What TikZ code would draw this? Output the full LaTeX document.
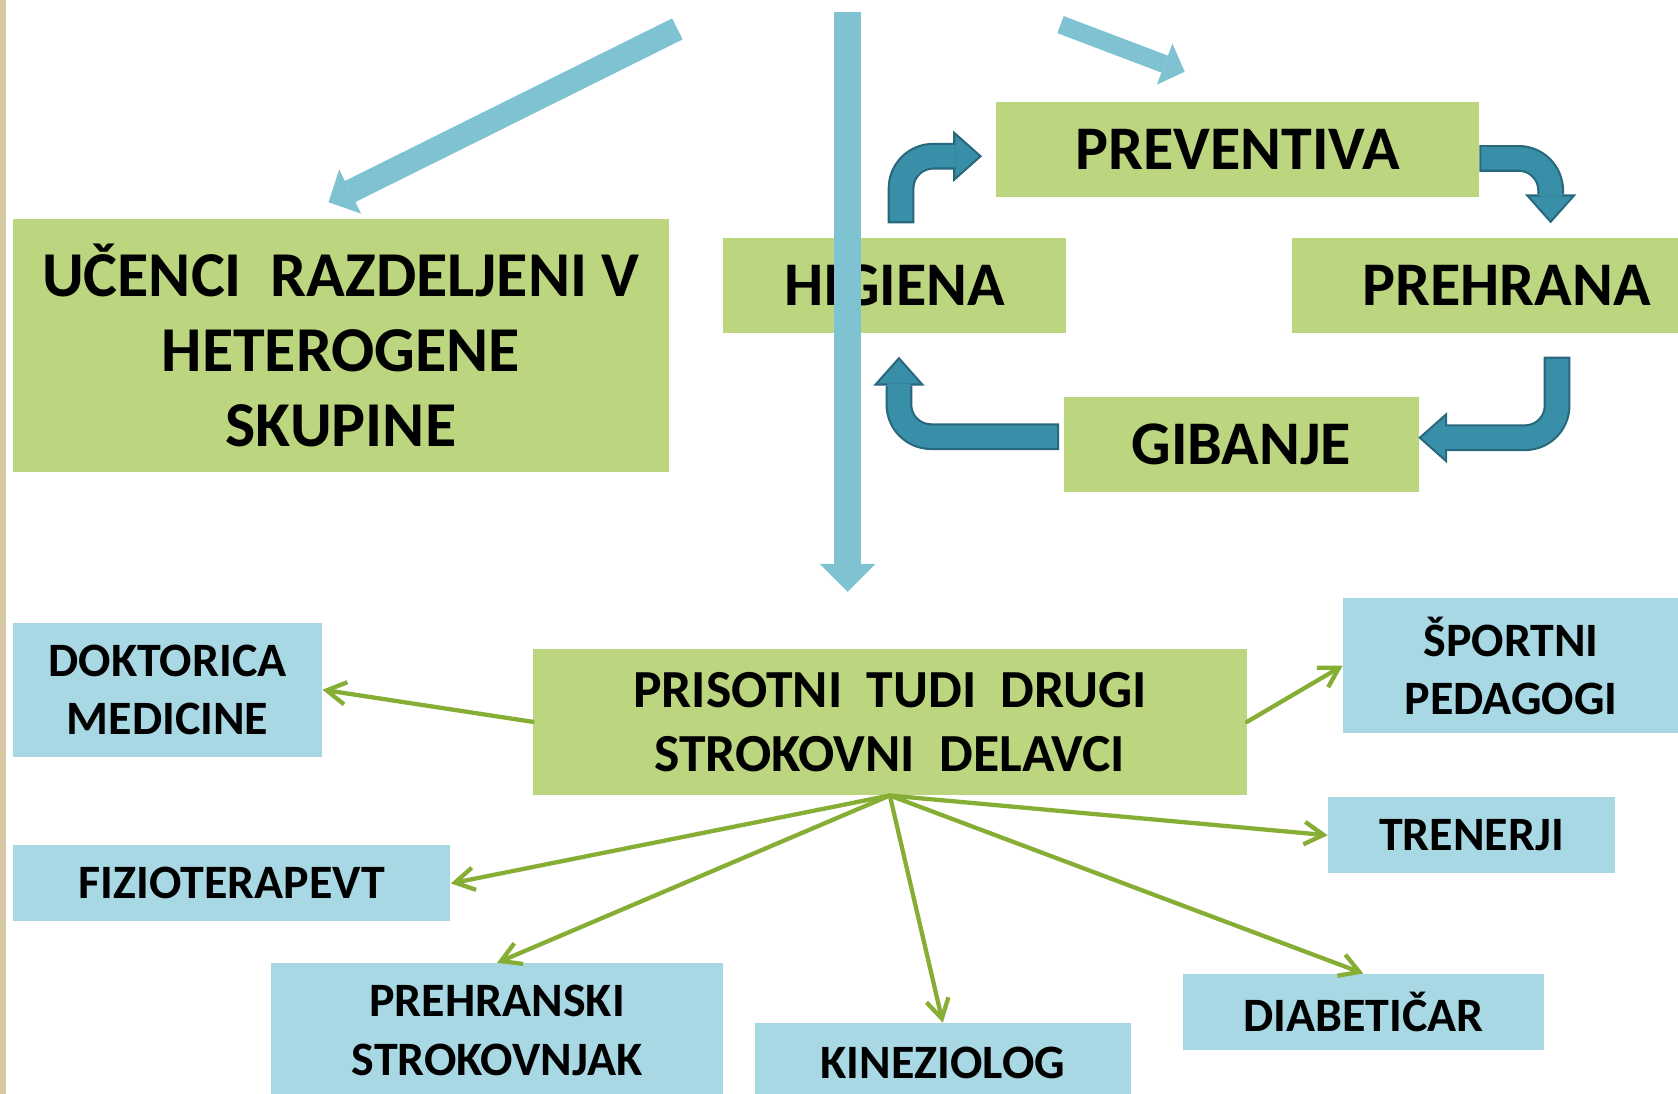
\documentclass[tikz,border=0pt]{standalone}
\usepackage{fontspec}
\setmainfont{Carlito}
\usetikzlibrary{arrows.meta}
\definecolor{boxgreen}{HTML}{BBD67E}
\definecolor{boxblue}{HTML}{A8D8E3}
\definecolor{barblue}{HTML}{7FC3D3}
\definecolor{loopteal}{HTML}{3A8FA8}
\definecolor{loopedge}{HTML}{27687C}
\definecolor{linkgreen}{HTML}{86AD34}
\definecolor{stripbeige}{HTML}{D6C8A2}
\begin{document}
\begin{tikzpicture}[x=0.02cm, y=-0.02cm,
greenbox/.style={
% The shape:
rectangle, inner sep=0pt,
% The filling:
fill=boxgreen,
% Font
font=\bfseries, align=center
},
bluebox/.style={
rectangle, inner sep=0pt,
fill=boxblue,
font=\bfseries\fontsize{25.5}{31}\selectfont, align=center
},
% thick pale arrows at the top
bararrow/.style={draw=barblue},
% the cycle arrows: dark edge first, teal body on top
loopout/.style={draw=loopedge, line width=0.5cm, rounded corners=0.6cm,
  -{Triangle[length=0.54cm, width=0.96cm, line width=0pt]}},
loopin/.style={draw=loopteal, line width=0.42cm, rounded corners=0.6cm,
  shorten <=0.04cm, shorten >=0.06cm,
  -{Triangle[length=0.44cm, width=0.78cm, line width=0pt]}},
% thin green links
link/.style={draw=linkgreen, line width=0.08cm, line cap=round,
  -{Straight Barb[length=0.36cm, width=0.42cm]}}
]
\useasboundingbox (0,0) rectangle (1568,1022);
\clip (0,0) rectangle (1568,1022);
\fill[white] (0,0) rectangle (1568,1022);
\fill[stripbeige] (0,0) rectangle (6,1022);

% upper part
\node[greenbox, minimum width=12.26cm, minimum height=4.72cm,
  font=\bfseries\fontsize{34}{40}\selectfont] (ucenci) at (318.5,323)
  {UČENCI~ RAZDELJENI V\\HETEROGENE\\SKUPINE};
\node[greenbox, minimum width=9.02cm, minimum height=1.78cm,
  font=\bfseries\fontsize{33}{36}\selectfont] (prev) at (1156.5,139.5) {PREVENTIVA};
\node[greenbox, minimum width=6.4cm, minimum height=1.78cm,
  font=\bfseries\fontsize{33}{36}\selectfont] (hig) at (836,266.5) {HIGIENA};
\node[greenbox, minimum width=8.04cm, minimum height=1.78cm,
  font=\bfseries\fontsize{33}{36}\selectfont] (preh) at (1408,266.5) {PREHRANA};
\node[greenbox, minimum width=6.64cm, minimum height=1.78cm,
  font=\bfseries\fontsize{33}{36}\selectfont] (gib) at (1160,415.5) {GIBANJE};

% lower part
\node[greenbox, minimum width=13.34cm, minimum height=2.74cm,
  font=\bfseries\fontsize{28.5}{34}\selectfont] (pris) at (831.5,674.5)
  {PRISOTNI~ TUDI~ DRUGI\\STROKOVNI~ DELAVCI};
\node[bluebox, minimum width=5.78cm, minimum height=2.5cm] (dok) at (156.5,644.5) {DOKTORICA\\MEDICINE};
\node[bluebox, minimum width=8.18cm, minimum height=1.42cm] (fiz) at (216.5,825.5) {FIZIOTERAPEVT};
\node[bluebox, minimum width=8.46cm, minimum height=2.52cm] (prehs) at (464.5,963) {PREHRANSKI\\STROKOVNJAK};
\node[bluebox, minimum width=7.04cm, minimum height=1.48cm] (kin) at (881,993) {KINEZIOLOG};
\node[bluebox, minimum width=6.76cm, minimum height=1.42cm] (dia) at (1274,945.5) {DIABETIČAR};
\node[bluebox, minimum width=5.36cm, minimum height=1.42cm] (tren) at (1375,780.5) {TRENERJI};
\node[bluebox, minimum width=6.28cm, minimum height=2.52cm] (sport) at (1412,622) {ŠPORTNI\\PEDAGOGI};

% pale arrows
\coordinate (lefttail) at (633,27);
\coordinate (lefttip) at (307,189);
\coordinate (midtail) at (792,11);
\coordinate (midtip) at (792,553);
\coordinate (righttail) at (991,23);
\coordinate (righttip) at (1107,67);
\draw[bararrow, line width=0.44cm, -{Triangle[length=0.45cm, width=0.92cm, line width=0pt]}] (lefttail) -- (lefttip);
\draw[bararrow, line width=0.52cm, -{Triangle[length=0.52cm, width=1.04cm, line width=0pt]}] (midtail) -- (midtip);
\draw[bararrow, line width=0.34cm, -{Triangle[length=0.4cm, width=0.82cm, line width=0pt]}] (righttail) -- (righttip);

% cycle
\draw[loopout] ([xshift=0.12cm, yshift=0.26cm]hig.north) |- ([xshift=-0.26cm, yshift=-0.13cm]prev.west);
\draw[loopin] ([xshift=0.12cm, yshift=0.26cm]hig.north) |- ([xshift=-0.26cm, yshift=-0.13cm]prev.west);
\draw[loopout] ([yshift=-0.17cm]prev.east) -| ([xshift=0.82cm, yshift=0.26cm]preh.north);
\draw[loopin] ([yshift=-0.17cm]prev.east) -| ([xshift=0.82cm, yshift=0.26cm]preh.north);
\draw[loopout] ([xshift=0.94cm, yshift=-0.44cm]preh.south) |- ([xshift=-0.02cm, yshift=0.13cm]gib.east);
\draw[loopin] ([xshift=0.94cm, yshift=-0.44cm]preh.south) |- ([xshift=-0.02cm, yshift=0.13cm]gib.east);
\draw[loopout] ([xshift=-0.08cm, yshift=0.15cm]gib.west) -| ([xshift=0.08cm, yshift=-0.44cm]hig.south);
\draw[loopin] ([xshift=-0.08cm, yshift=0.15cm]gib.west) -| ([xshift=0.08cm, yshift=-0.44cm]hig.south);

% links
\draw[link] (pris.west) -- (dok.east);
\draw[link] (pris.east) -- (sport.west);
\draw[link] (pris.south) -- (fiz.east);
\draw[link] (pris.south) -- (prehs.north);
\draw[link] (pris.south) -- (kin.north);
\draw[link] (pris.south) -- (dia.north);
\draw[link] (pris.south) -- (tren.west);
\end{tikzpicture}
\end{document}
